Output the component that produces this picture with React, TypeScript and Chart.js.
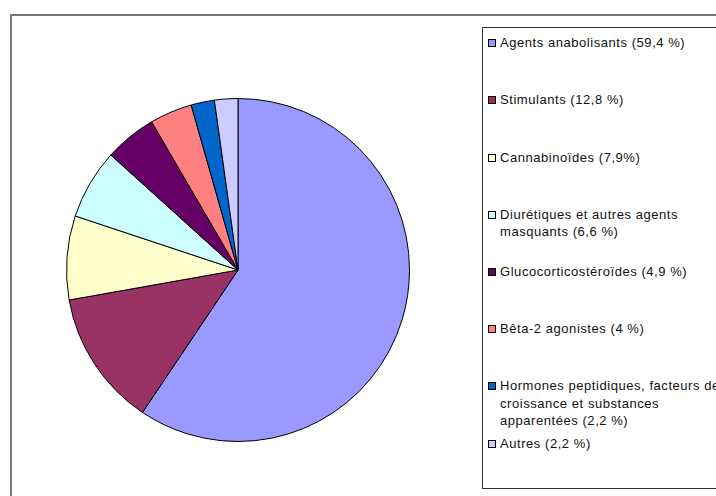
import React, { useEffect, useRef } from "react";
import { Chart, registerables } from "chart.js";

Chart.register(...registerables);

const categories: string[] = [
  "Agents anabolisants (59,4 %)",
  "Stimulants (12,8 %)",
  "Cannabinoïdes (7,9%)",
  "Diurétiques et autres agents\nmasquants (6,6 %)",
  "Glucocorticostéroïdes (4,9 %)",
  "Bêta-2 agonistes (4 %)",
  "Hormones peptidiques, facteurs de\ncroissance et substances\napparentées (2,2 %)",
  "Autres (2,2 %)",
];
const values: number[] = [59.4, 12.8, 7.9, 6.6, 4.9, 4, 2.2, 2.2];
const colors: string[] = [
  "#9999FF",
  "#993366",
  "#FFFFCC",
  "#CCFFFF",
  "#660066",
  "#FF8080",
  "#0066CC",
  "#CCCCFF",
];

export default function App() {
  const ref = useRef<HTMLCanvasElement>(null);
  useEffect(() => {
    if (!ref.current) return;
    const chart = new Chart(ref.current, {
      type: "pie",
      data: {
        labels: categories,
        datasets: [
          {
            data: values,
            backgroundColor: colors,
            borderColor: "#000000",
            borderWidth: 1,
          },
        ],
      },
      options: {
        responsive: false,
        animation: false,
        plugins: { legend: { display: false }, tooltip: { enabled: false } },
        layout: { padding: 0 },
      },
    });
    return () => chart.destroy();
  }, []);

  return (
    <div
      style={{
        position: "fixed",
        left: 0,
        top: 0,
        width: 716,
        height: 496,
        overflow: "hidden",
        background: "#fff",
        fontFamily: "'Liberation Sans', Arial, sans-serif",
      }}
    >
      <div
        style={{
          position: "absolute",
          left: 10,
          top: 14,
          width: 740,
          height: 520,
          border: "2px solid #777",
        }}
      />
      <canvas
        ref={ref}
        width={344}
        height={344}
        style={{ position: "absolute", left: 66, top: 98, width: 344, height: 344 }}
      />
      <div
        style={{
          position: "absolute",
          left: 482,
          top: 27,
          width: 260,
          height: 460,
          border: "1.5px solid #333",
        }}
      />
      {categories.map((c, i) => (
        <div
          key={i}
          style={{
            position: "absolute",
            left: 488,
            top: 34.25 + i * 57.2,
            display: "flex",
            alignItems: "flex-start",
            whiteSpace: "pre",
          }}
        >
          <div
            style={{
              width: 6,
              height: 6,
              marginTop: 5,
              background: colors[i],
              border: "1px solid #000",
              flex: "0 0 auto",
            }}
          />
          <div
            style={{
              marginLeft: 4,
              fontSize: 13,
              lineHeight: "17.5px",
              letterSpacing: 0.55,
              color: "#111",
            }}
          >
            {c}
          </div>
        </div>
      ))}
    </div>
  );
}
